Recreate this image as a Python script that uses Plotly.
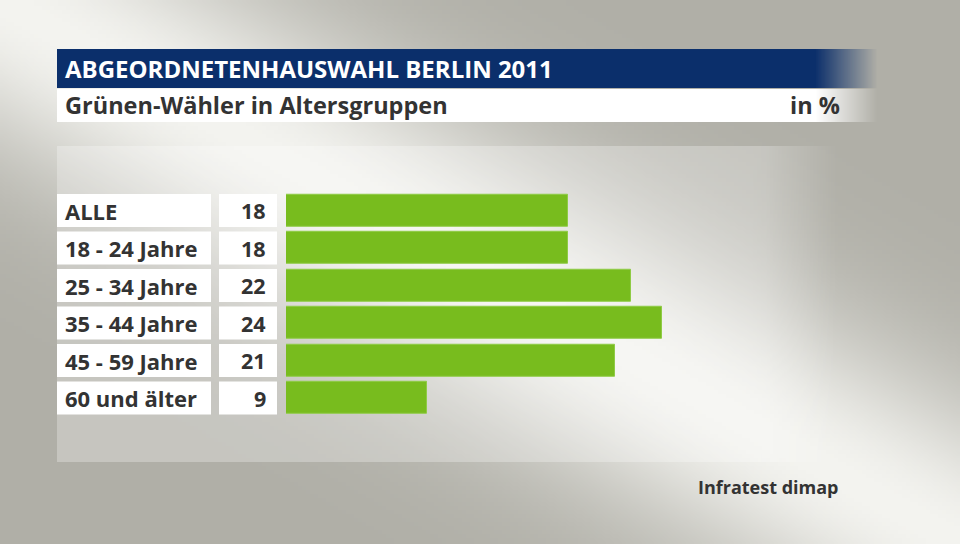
import base64, struct, zlib
import numpy as np
import plotly.graph_objects as go

# ---------------- data ----------------
categories = ["ALLE", "18 - 24 Jahre", "25 - 34 Jahre", "35 - 44 Jahre", "45 - 59 Jahre", "60 und älter"]
values = [18, 18, 22, 24, 21, 9]
title = "ABGEORDNETENHAUSWAHL BERLIN 2011"
subtitle = "Grünen-Wähler in Altersgruppen"
unit = "in %"
source = "Infratest dimap"

W, H = 960, 544
FONT = "Open Sans"
TXT = "#333333"
BLUE = (11, 47, 107)


def png_uri(arr):
    arr = np.ascontiguousarray(arr.astype(np.uint8))
    h, w, c = arr.shape
    ctype = 6 if c == 4 else 2
    raw = b"".join(b"\x00" + arr[i].tobytes() for i in range(h))

    def chunk(tag, data):
        return struct.pack(">I", len(data)) + tag + data + struct.pack(">I", zlib.crc32(tag + data) & 0xFFFFFFFF)

    png = b"\x89PNG\r\n\x1a\n" + chunk(b"IHDR", struct.pack(">IIBBBBB", w, h, 8, ctype, 0, 0, 0)) \
        + chunk(b"IDAT", zlib.compress(raw, 9)) + chunk(b"IEND", b"")
    return "data:image/png;base64," + base64.b64encode(png).decode()


# background: light diagonal band
gw, gh = 240, 136
xs = (np.arange(gw) + 0.5) * W / gw
ys = (np.arange(gh) + 0.5) * H / gh
X, Y = np.meshgrid(xs, ys)
d = np.abs(544 * X - 960 * Y) / np.hypot(544, 960)
t = np.exp(-(d / 135.0) ** 2)
dark = np.array([176, 175, 167], float)
light = np.array([244, 244, 240], float)
bg = dark[None, None, :] + (light - dark)[None, None, :] * t[:, :, None]
bg_uri = png_uri(bg)


def hfade(rgb, alpha, n=64, start=0.0):
    pos = np.linspace(0, 1, n)
    a = np.where(pos < start, 1.0, 1.0 - (pos - start) / (1 - start))
    arr = np.zeros((1, n, 4))
    arr[0, :, :3] = rgb
    arr[0, :, 3] = np.clip(a, 0, 1) * 255 * alpha
    return png_uri(arr)


def img(src, x0, y0, x1, y1, layer="below"):
    return dict(source=src, xref="paper", yref="paper", x=x0 / W, y=1 - y0 / H,
                sizex=(x1 - x0) / W, sizey=(y1 - y0) / H, xanchor="left", yanchor="top",
                sizing="stretch", layer=layer)


images = [
    img(bg_uri, 0, 0, W, H),
    img(hfade((255, 255, 255), 0.28, start=0.9), 57, 146, 845, 462),
]

# plotting geometry
x0px, x1px = 286, 880
px_per_unit = (662 - 286) / 24.0
pitch = 37.5
top = 210.5 - pitch / 2
bottom = top + pitch * len(categories)

fig = go.Figure()
fig.add_trace(go.Bar(
    x=values, y=categories, orientation="h",
    marker=dict(color="#78bc1e", line=dict(color="#8fcb45", width=1)),
    width=0.86, hoverinfo="skip",
))

shapes = []
shapes.append(dict(type="rect", xref="paper", yref="paper", x0=57 / W, x1=815 / W,
                   y0=1 - 88 / H, y1=1 - 49 / H, fillcolor="rgb(%d,%d,%d)" % BLUE, line_width=0, layer="below"))
shapes.append(dict(type="rect", xref="paper", yref="paper", x0=57 / W, x1=815 / W,
                   y0=1 - 122 / H, y1=1 - 89 / H, fillcolor="white", line_width=0, layer="below"))
images.append(img(hfade(BLUE, 1.0, start=0.0), 815, 49, 878, 88))
images.append(img(hfade((255, 255, 255), 1.0, start=0.0), 815, 89, 878, 122))

annotations = []
for i, (c, v) in enumerate(zip(categories, values)):
    shapes.append(dict(type="rect", xref="paper", yref="y", x0=57 / W, x1=211 / W,
                       y0=i - 0.44, y1=i + 0.44, fillcolor="white", line_width=0, layer="below"))
    shapes.append(dict(type="rect", xref="paper", yref="y", x0=219 / W, x1=277 / W,
                       y0=i - 0.44, y1=i + 0.44, fillcolor="white", line_width=0, layer="below"))
    annotations.append(dict(text=c, xref="paper", yref="y", x=63 / W, y=i, xanchor="left",
                            yanchor="middle", showarrow=False,
                            font=dict(family=FONT, size=22, color=TXT, weight="bold")))
    annotations.append(dict(text=str(v), xref="paper", yref="y", x=268 / W, y=i, xanchor="right",
                            yanchor="middle", showarrow=False,
                            font=dict(family=FONT, size=21.5, color=TXT, weight="bold")))

annotations += [
    dict(text=title, xref="paper", yref="paper", x=63 / W, y=1 - 68.5 / H, xanchor="left", yanchor="middle",
         showarrow=False, font=dict(family=FONT, size=24, color="white", weight="bold")),
    dict(text=subtitle, xref="paper", yref="paper", x=63 / W, y=1 - 104.5 / H, xanchor="left", yanchor="middle",
         showarrow=False, font=dict(family=FONT, size=23.5, color=TXT, weight="bold")),
    dict(text=unit, xref="paper", yref="paper", x=842 / W, y=1 - 104.5 / H, xanchor="right", yanchor="middle",
         showarrow=False, font=dict(family=FONT, size=23.5, color=TXT, weight="bold")),
    dict(text=source, xref="paper", yref="paper", x=841 / W, y=1 - 487 / H, xanchor="right", yanchor="middle",
         showarrow=False, font=dict(family=FONT, size=18, color=TXT, weight="bold")),
]

fig.update_layout(
    width=W, height=H, margin=dict(l=0, r=0, t=0, b=0),
    paper_bgcolor="#c8c8c2", plot_bgcolor="rgba(0,0,0,0)",
    showlegend=False, bargap=0,
    xaxis=dict(domain=[x0px / W, x1px / W], range=[0, (x1px - x0px) / px_per_unit],
               visible=False, fixedrange=True),
    yaxis=dict(domain=[1 - bottom / H, 1 - top / H], range=[len(categories) - 0.5, -0.5],
               type="category", categoryorder="array", categoryarray=categories,
               visible=False, fixedrange=True),
    shapes=shapes, annotations=annotations, images=images,
)

fig.write_html("out.html", config=dict(displayModeBar=False))
